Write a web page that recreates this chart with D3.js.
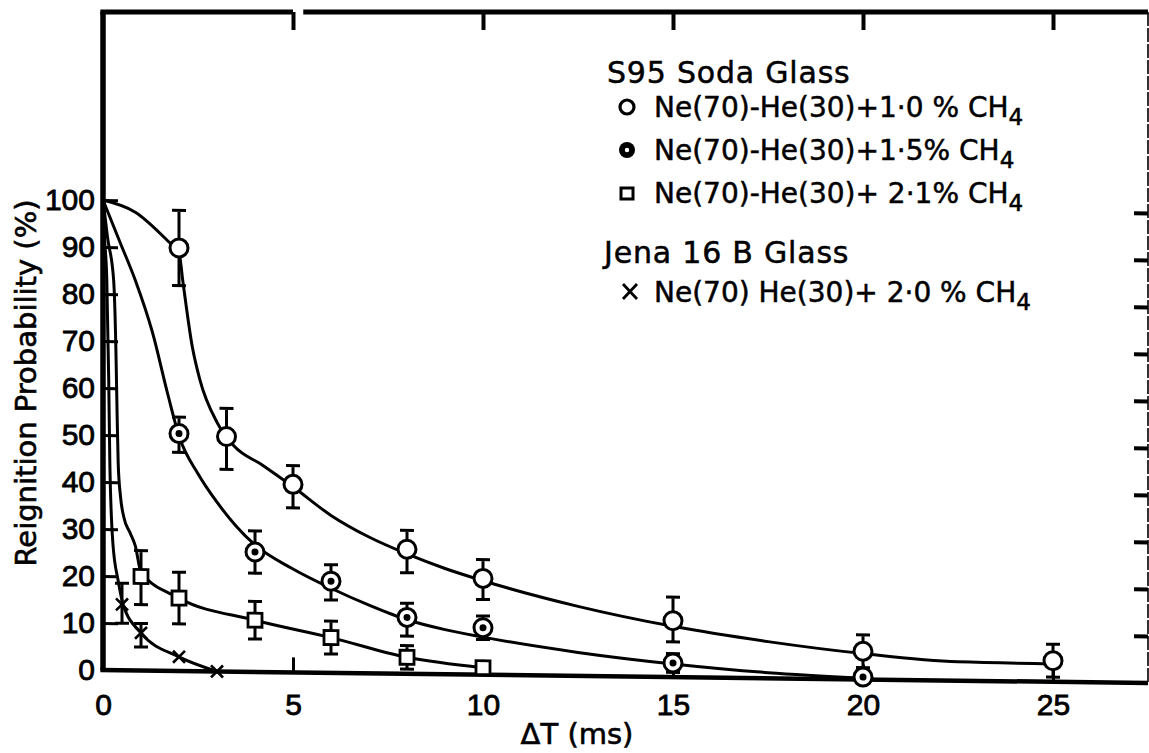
<!DOCTYPE html>
<html><head><meta charset="utf-8">
<script src="https://cdnjs.cloudflare.com/ajax/libs/d3/7.8.5/d3.min.js"></script>
<style>
html,body{margin:0;padding:0;background:#fff;}
svg{display:block;}
</style></head><body>
<svg id="chart" width="1149" height="753"></svg>
<script>
// ΔT (ms) and reignition probability (%) with error-bar limits
const tA  = [2, 3.25, 5, 8, 10, 15, 20, 25];
const pA  = [90, 50, 40, 26.5, 20.5, 12, 6, 4.5];
const hiA = [98, 56, 44, 30.5, 24.5, 17, 9.5, 8];
const loA = [82, 43, 35, 21.5, 16, 7.5, 2.5, 1];

const tB  = [2, 4, 6, 8, 10, 15, 20];
const pB  = [50.5, 25.5, 19.5, 12, 10, 3, 0.5];
const hiB = [54, 30, 23, 15, 12.5, 5, null];
const loB = [46.5, 21, 15.5, 8, 7.5, 1, null];

const tC  = [1, 2, 4, 6, 8, 10];
const pC  = [20, 15.5, 11, 7.5, 3.5, 1.5];
const hiC = [25.5, 21, 15, 11, 6, null];
const loC = [14, 10, 7, 4, 1, null];

const tX  = [0.5, 1, 2, 3];
const pX  = [14, 8, 3, 0];
const hiX = [18.5, 10, null, null];
const loX = [10, 5, null, null];

// hand-drawn fitted curves, [ΔT, %]
const fitA = [[0,100],[0.85,97.5],[1.7,91.5],[2,89],[2.1,83],[2.35,69],[2.55,62],[3,53],[3.45,48],[4.2,44],[5,39.5],[6,33.5],[7,29],[8,25.5],[9,22.5],[10,20],[12.5,14.8],[15,10.8],[17.5,7.8],[20,5.5],[22.5,4],[25,3.8]];
const fitB = [[0,100],[0.45,91],[0.85,83],[1.3,72],[1.7,59],[2,50],[2.5,42],[3,36],[3.5,31],[4,27],[5,22],[6,18],[7,14.5],[8,11.5],[9,9.5],[10,8],[12.5,5],[15,2.8],[17.5,1.2],[20,0.3]];
const fitC = [[0,100],[0.12,92],[0.28,83],[0.34,68],[0.37,55],[0.4,44],[0.46,37],[0.55,32.5],[0.71,29.3],[0.85,26.5],[1,21],[2,15.5],[4,11],[6,7.5],[8,3.5],[10,1.5]];
const fitX = [[0,100],[0.04,92],[0.1,83],[0.15,62],[0.18,44],[0.26,27],[0.4,19],[0.53,14],[1,8],[2,3],[3,0]];

const xTicks = [0, 5, 10, 15, 20, 25];
const yTicks = [0, 10, 20, 30, 40, 50, 60, 70, 80, 90, 100];
const rightTicks = [10, 20, 30, 40, 50, 60, 70, 80, 90, 100];
const xMax = 27.5, yTop = 140;

const svg = d3.select('#chart');
const x = d3.scaleLinear().domain([0, xMax]).range([103, 1148]);
const y = d3.scaleLinear().domain([0, 100]).range([670, 200]);

// the printed frame sags slightly toward the right
const sag = 13;
const skewDeg = Math.atan(sag / (x(xMax) - x(0))) * 180 / Math.PI;
const g = svg.append('g')
  .attr('transform', `translate(${x(0)},0) skewY(${skewDeg}) translate(${-x(0)},0)`);
const flat = svg.append('g');

const ln = d3.line().x(d => x(d[0])).y(d => y(d[1]));

// frame
g.append('path').attr('d', ln([[0,0],[0,yTop]])).attr('stroke','#000').attr('stroke-width',5.5).attr('fill','none');
g.append('path').attr('d', ln([[-0.07,0],[xMax,0]])).attr('stroke','#000').attr('stroke-width',4.5).attr('fill','none');
flat.append('path').attr('d', ln([[-0.07,yTop],[5,yTop]])).attr('stroke','#000').attr('stroke-width',5).attr('fill','none');
flat.append('path').attr('d', ln([[5.27,yTop],[xMax,yTop]])).attr('stroke','#000').attr('stroke-width',5).attr('fill','none');
flat.append('line').attr('x1', x(xMax)).attr('x2', x(xMax))
  .attr('y1', y(yTop)).attr('y2', y(0) + sag)
  .attr('stroke','#000').attr('stroke-width',1.6).attr('stroke-dasharray','14 2');

function tickStyle(sel, w) {
  sel.select('.domain').remove();
  sel.selectAll('.tick line').attr('stroke','#000').attr('stroke-width',w);
}
// inward ticks
g.append('g').attr('transform',`translate(${x(0)},0)`)
  .call(d3.axisRight(y).tickValues(yTicks.filter(v => v > 0)).tickSize(15).tickFormat(''))
  .call(s => tickStyle(s, 3));
g.append('g').attr('transform',`translate(${x(xMax)},0)`)
  .call(d3.axisLeft(y).tickValues(rightTicks).tickSize(14).tickFormat(''))
  .call(s => tickStyle(s, 4));
g.append('g').attr('transform',`translate(0,${y(0)})`)
  .call(d3.axisTop(x).tickValues(xTicks.filter(v => v > 0)).tickSize(15).tickFormat(''))
  .call(s => tickStyle(s, 3));
flat.append('g').attr('transform',`translate(0,${y(yTop)})`)
  .call(d3.axisBottom(x).tickValues(xTicks.filter(v => v > 0)).tickSize(18).tickFormat(''))
  .call(s => tickStyle(s, 4));

// tick labels
const labFont = s => s.selectAll('text')
  .attr('font-family','"Liberation Sans", Arial, sans-serif').attr('font-size',30)
  .attr('fill','#000').attr('stroke','#000').attr('stroke-width',0.8);
flat.append('g').attr('transform',`translate(${x(0)},0)`)
  .call(d3.axisLeft(y).tickValues(yTicks).tickSize(0).tickPadding(8))
  .call(s => { s.select('.domain').remove(); labFont(s); });
flat.append('g').attr('transform',`translate(0,${y(0)})`)
  .call(d3.axisBottom(x).tickValues(xTicks).tickSize(0).tickPadding(24))
  .call(s => { s.select('.domain').remove(); labFont(s); });

// axis titles
const titleFont = s => s.attr('font-family','"DejaVu Sans", sans-serif').attr('fill','#000')
  .attr('stroke','#000').attr('stroke-width',0.6);
flat.append('text').attr('transform',`translate(36,383) rotate(-90)`)
  .attr('text-anchor','middle').attr('font-size',29).call(titleFont)
  .text('Reignition Probability (%)');
flat.append('text').attr('x',577).attr('y',744).attr('text-anchor','middle')
  .attr('font-size',29).call(titleFont).text('ΔT (ms)');

// fitted curves
const curve = d3.line().x(d => x(d[0])).y(d => y(d[1])).curve(d3.curveMonotoneX);
[fitA, fitB, fitC, fitX].forEach(f => {
  g.append('path').attr('d', curve(f)).attr('fill','none')
    .attr('stroke','#000').attr('stroke-width',3).attr('stroke-linecap','round');
});

// markers
function drawMarker(sel, kind, cx, cy) {
  if (kind === 'open') {
    sel.append('circle').attr('cx',cx).attr('cy',cy).attr('r',9)
      .attr('fill','#fff').attr('stroke','#000').attr('stroke-width',3);
  } else if (kind === 'dot') {
    sel.append('circle').attr('cx',cx).attr('cy',cy).attr('r',9)
      .attr('fill','#fff').attr('stroke','#000').attr('stroke-width',3);
    sel.append('circle').attr('cx',cx).attr('cy',cy).attr('r',3.5).attr('fill','#000');
  } else if (kind === 'square') {
    sel.append('rect').attr('x',cx-7).attr('y',cy-7).attr('width',14).attr('height',14)
      .attr('fill','#fff').attr('stroke','#000').attr('stroke-width',2.8);
  } else if (kind === 'cross') {
    sel.append('path').attr('d',`M${cx-6},${cy-6}L${cx+6},${cy+6}M${cx+6},${cy-6}L${cx-6},${cy+6}`)
      .attr('stroke','#000').attr('stroke-width',2.6).attr('fill','none');
  }
}

function drawSeries(ts, ps, his, los, kind) {
  const s = g.append('g');
  ts.forEach((t, i) => {
    if (his[i] != null) {
      const cx = x(t), c = 7;
      s.append('path')
        .attr('d', `M${cx},${y(his[i])}L${cx},${y(los[i])}M${cx-c},${y(his[i])}L${cx+c},${y(his[i])}M${cx-c},${y(los[i])}L${cx+c},${y(los[i])}`)
        .attr('stroke','#000').attr('stroke-width',3).attr('fill','none');
    }
  });
  ts.forEach((t, i) => drawMarker(s, kind, x(t), y(ps[i])));
}
drawSeries(tC, pC, hiC, loC, 'square');
drawSeries(tB, pB, hiB, loB, 'dot');
drawSeries(tA, pA, hiA, loA, 'open');
drawSeries(tX, pX, hiX, loX, 'cross');

// legend
const leg = flat.append('g').attr('font-family','"DejaVu Sans", sans-serif')
  .attr('font-size',28).attr('fill','#000').attr('stroke','#000').attr('stroke-width',0.5);
const legendHeads = [
  {text: 'S95 Soda Glass', x: 607, y: 83},
  {text: 'Jena 16 B Glass', x: 604, y: 263}
];
const legendRows = [
  {kind: 'open',   label: 'Ne(70)-He(30)+1·0 % CH', y: 117},
  {kind: 'filled', label: 'Ne(70)-He(30)+1·5% CH',  y: 160},
  {kind: 'square', label: 'Ne(70)-He(30)+ 2·1% CH', y: 203},
  {kind: 'cross',  label: 'Ne(70) He(30)+ 2·0 % CH', y: 302}
];
legendHeads.forEach(h => leg.append('text').attr('x',h.x).attr('y',h.y)
  .attr('font-size',30).attr('letter-spacing',0.8).text(h.text));
legendRows.forEach(r => {
  const t = leg.append('text').attr('x',654).attr('y',r.y);
  t.append('tspan').text(r.label);
  t.append('tspan').attr('dy',8).attr('font-size',23).text('4');
  const my = r.y - 10, mx = 627;
  if (r.kind === 'open') {
    flat.append('circle').attr('cx',mx).attr('cy',my).attr('r',7)
      .attr('fill','#fff').attr('stroke','#000').attr('stroke-width',3.2);
  } else if (r.kind === 'filled') {
    flat.append('circle').attr('cx',mx).attr('cy',my).attr('r',8).attr('fill','#000');
    flat.append('circle').attr('cx',mx).attr('cy',my).attr('r',2.2).attr('fill','#fff');
  } else if (r.kind === 'square') {
    flat.append('rect').attr('x',mx-6).attr('y',my-5).attr('width',12).attr('height',11)
      .attr('fill','#fff').attr('stroke','#000').attr('stroke-width',3);
  } else {
    flat.append('path').attr('d',`M${mx-4},${my-8}L${mx+10},${my+7}M${mx+10},${my-8}L${mx-4},${my+7}`)
      .attr('stroke','#000').attr('stroke-width',2.8);
  }
});
</script>
</body></html>
